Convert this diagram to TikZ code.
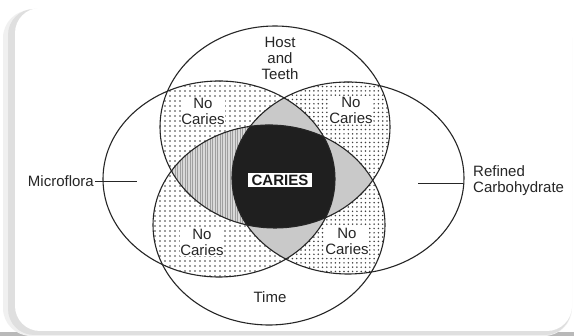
\documentclass[tikz,border=0pt]{standalone}
\usepackage{fontspec}
\setmainfont{Liberation Sans}
\usetikzlibrary{patterns.meta}
\begin{document}
\begin{tikzpicture}[x=1pt,y=1pt,
  outline/.style={line width=1.1pt, draw=black!85},
  lbl/.style={font=\fontsize{15}{16}\selectfont, text=black!85, align=center},
  nocaries/.style={lbl, fill=white, inner sep=0.5pt},
  dotsA/.style={pattern={Dots[distance=5pt,radius=0.9pt]}, pattern color=black!75},
  dotsB/.style={pattern={Dots[distance=4.3pt,radius=0.85pt]}, pattern color=black!75},
]
\useasboundingbox (0,0) rectangle (574,336);
% background card
\fill[white] (0,0) rectangle (574,336);
\fill[gray!55] (0,0) rectangle (574,4);
\fill[gray!12, rounded corners=28pt] (3,0) rectangle (572,326);
\fill[gray!25, rounded corners=26pt] (8,1) rectangle (571,327);
\fill[white, rounded corners=25pt] (15,5) rectangle (572,328);
% ellipses
\def\pT{(275,209) ellipse [x radius=115, y radius=101]}
\def\pB{(269,111) ellipse [x radius=116, y radius=100]}
\def\pL{(219,157) ellipse [x radius=116, y radius=98]}
\def\pR{(348,158) ellipse [x radius=116, y radius=96]}
% dotted no-caries regions
\begin{scope}\clip \pT; \fill[dotsA] \pL; \end{scope}
\begin{scope}\clip \pB; \fill[dotsA] \pL; \end{scope}
\begin{scope}\clip \pT; \fill[dotsB] \pR; \end{scope}
\begin{scope}\clip \pB; \fill[dotsB] \pR; \end{scope}
% three-way lenses
\begin{scope}\clip \pT; \clip \pL; \fill[gray!42] \pR; \end{scope}
\begin{scope}\clip \pB; \clip \pL; \fill[gray!42] \pR; \end{scope}
\begin{scope}\clip \pR; \clip \pT; \fill[gray!42] \pB; \end{scope}
\begin{scope}\clip \pL; \clip \pT; \fill[gray!30] \pB;
  \fill[pattern={Lines[angle=90,distance=2.5pt,line width=0.7pt]}, pattern color=gray!75] \pB; \end{scope}
% centre
\begin{scope}\clip \pT; \clip \pB; \clip \pL; \fill[black!88] \pR; \end{scope}
% outlines
\draw[outline] \pT;
\draw[outline] \pB;
\draw[outline] \pL;
\draw[outline] \pR;
% labels
\node[lbl] (host) at (280,278) {Host\\and\\Teeth};
\node[nocaries] (ncUL) at (203,225) {No\\Caries};
\node[nocaries] (ncUR) at (351,226) {No\\Caries};
\node[nocaries] (ncLL) at (202,94) {No\\Caries};
\node[nocaries] (ncLR) at (347,95) {No\\Caries};
\node[lbl] (time) at (270,39) {Time};
\node[font=\fontsize{15}{16}\selectfont\bfseries, text=black!90, fill=white, inner xsep=4pt, inner ysep=2pt] (caries) at (280,156) {CARIES};
\node[lbl, anchor=east, inner sep=1pt] (micro) at (95,155) {Microflora};
\coordinate (mc) at (137,155);
\draw[line width=0.9pt, black!85] (micro.east) -- (mc);
\node[lbl, anchor=west, align=left, inner sep=0pt] (refined) at (473,155) {Refined\\Carbohydrate};
\coordinate (rc) at (418,153);
\draw[line width=0.9pt, black!85, shorten >=10pt] (rc) -- (rc -| refined.west);
\end{tikzpicture}
\end{document}
